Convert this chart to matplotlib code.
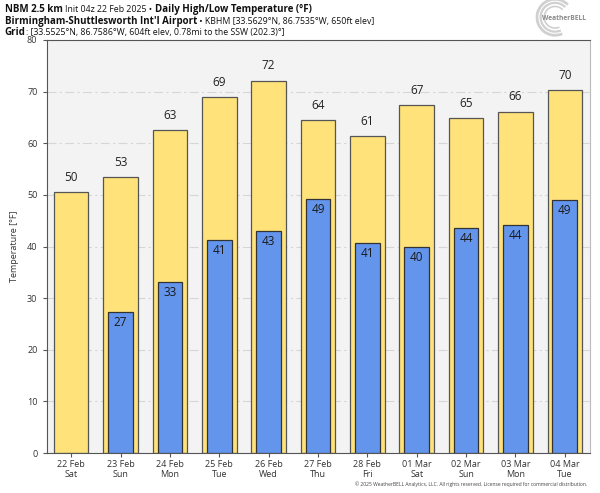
import matplotlib
matplotlib.use("Agg")
import matplotlib.pyplot as plt
from matplotlib.patches import Arc
import numpy as np

plt.rcParams['font.family'] = ['Open Sans', 'DejaVu Sans']

dates = ["22 Feb", "23 Feb", "24 Feb", "25 Feb", "26 Feb", "27 Feb", "28 Feb",
         "01 Mar", "02 Mar", "03 Mar", "04 Mar"]
days = ["Sat", "Sun", "Mon", "Tue", "Wed", "Thu", "Fri", "Sat", "Sun", "Mon", "Tue"]
highs = [50.5, 53.4, 62.6, 68.9, 72.1, 64.4, 61.4, 67.4, 64.8, 66.1, 70.3]
lows = [None, 27.4, 33.2, 41.3, 43.0, 49.2, 40.7, 40.0, 43.6, 44.1, 49.0]

fig = plt.figure(figsize=(6, 4.93), dpi=100)
ax = fig.add_axes([0.0775, 0.081, 0.905, 0.838])
ax.set_facecolor("#f3f3f3")

x = np.arange(len(dates))
ax.bar(x, highs, width=0.7, color="#ffe27a", edgecolor="#555555", linewidth=0.9, zorder=2)
for xi, h in zip(x, highs):
    ax.text(xi, h + 1.6, f"{h:.0f}", ha="center", va="bottom", fontsize=8.5, color="#222222", zorder=4)

lx = [xi for xi, l in zip(x, lows) if l is not None]
lv = [l for l in lows if l is not None]
ax.bar(lx, lv, width=0.5, color="#6495ed", edgecolor="#333333", linewidth=0.9, zorder=3)
for xi, l in zip(lx, lv):
    ax.text(xi, l - 0.8, f"{l:.0f}", ha="center", va="top", fontsize=8.5, color="#1a1a1a", zorder=4)

ax.set_xlim(-0.5, 10.5)
ax.set_ylim(0, 80)
ax.set_yticks(range(0, 81, 10))
ax.set_xticks(x)
ax.set_xticklabels([f"{d}\n{w}" for d, w in zip(dates, days)], fontsize=6.5, color="#333333", linespacing=1.2)
ax.tick_params(axis="y", labelsize=6.5, labelcolor="#333333", length=3, color="#555555")
ax.tick_params(axis="x", length=3, color="#555555", pad=2)
ax.yaxis.grid(True, linestyle=(0, (8, 3, 2, 3)), color="#d6d6d6", linewidth=0.8, zorder=0)
ax.set_axisbelow(True)
ax.set_ylabel("Temperature [°F]", fontsize=6.5, color="#333333", labelpad=6)
for s in ["left", "bottom", "top"]:
    ax.spines[s].set_color("#555555")
ax.spines["right"].set_color("#bbbbbb")

# header lines with mixed weights
renderer = fig.canvas.get_renderer()
def line(y, parts):
    xpos = 0.008
    for txt, bold in parts:
        t = fig.text(xpos, y, txt, fontsize=7 if bold else 6.3,
                     fontweight="bold" if bold else "normal", color="#111111", va="baseline")
        bb = t.get_window_extent(renderer=renderer)
        xpos += bb.width / fig.bbox.width

line(0.975, [("NBM 2.5 km ", True), ("Init 04z 22 Feb 2025 • ", False),
             ("Daily High/Low Temperature (°F)", True)])
line(0.952, [("Birmingham-Shuttlesworth Int'l Airport", True),
             (" • KBHM [33.5629°N, 86.7535°W, 650ft elev]", False)])
line(0.929, [("Grid", True), (": [33.5525°N, 86.7586°W, 604ft elev, 0.78mi to the SSW (202.3)°]", False)])

# rough logo
for r, lw in [(0.03, 2.0), (0.024, 1.6), (0.018, 1.2)]:
    fig.add_artist(Arc((0.925, 0.965), r * 2, r * 2 * 600 / 493, theta1=50, theta2=290,
                       color="#d0d0d0", linewidth=lw, transform=fig.transFigure))
fig.text(0.94, 0.963, "WeatherBELL", fontsize=4.8, color="#8a8a8a", ha="center", va="center",
         fontweight="bold")
fig.text(0.978, 0.012, "© 2025 WeatherBELL Analytics, LLC. All rights reserved. License required for commercial distribution.",
         fontsize=3.6, color="#444444", ha="right", va="bottom")

fig.savefig("out.png", dpi=100)
